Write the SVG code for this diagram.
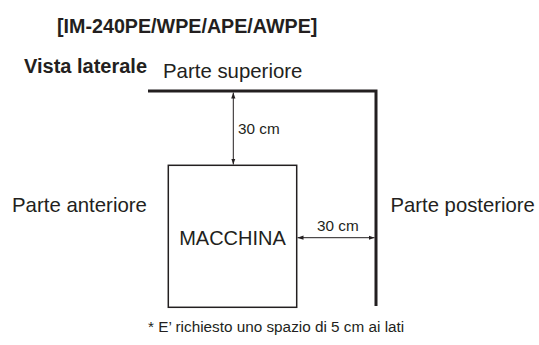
<svg xmlns="http://www.w3.org/2000/svg" width="539" height="345" viewBox="0 0 539 345">
<defs>
<style>
text{font-family:"Liberation Sans",Arial,sans-serif;fill:#231f20}
.b{font-weight:bold}
.wall{stroke:#231f20;stroke-width:3;fill:none}
.dim{stroke:#231f20;stroke-width:1;fill:none;marker-start:url(#ah);marker-end:url(#ah)}
</style>
<marker id="ah" viewBox="0 0 10 10" refX="10" refY="5" markerWidth="6" markerHeight="6" orient="auto-start-reverse" markerUnits="userSpaceOnUse">
<path d="M0,1.5 L10,5 L0,8.5 z" fill="#231f20"/>
</marker>
</defs>
<rect width="539" height="345" fill="#fff"/>
<text class="b" x="57" y="33" font-size="19.7">[IM-240PE/WPE/APE/AWPE]</text>
<text class="b" x="24" y="73" font-size="20">Vista laterale</text>
<text x="163" y="78" font-size="20.4">Parte superiore</text>
<text x="12" y="212" font-size="20.4">Parte anteriore</text>
<text x="390.5" y="212" font-size="20.3">Parte posteriore</text>
<text x="148" y="332" font-size="15.3">* E’ richiesto uno spazio di 5 cm ai lati</text>
<g id="walls">
<path class="wall" d="M148,91 H376 V306"/>
</g>
<g id="machine">
<rect x="168.3" y="165.3" width="128.4" height="142" fill="none" stroke="#231f20" stroke-width="1.5"/>
<text x="232.5" y="244.5" font-size="20" text-anchor="middle">MACCHINA</text>
</g>
<g id="connectors">
<line class="dim" x1="233.3" y1="92.5" x2="233.3" y2="164.5"/>
<line class="dim" x1="297.5" y1="237.7" x2="374.5" y2="237.7"/>
<text x="238" y="134" font-size="15.3">30 cm</text>
<text x="317" y="231" font-size="15.3">30 cm</text>
</g>
</svg>
